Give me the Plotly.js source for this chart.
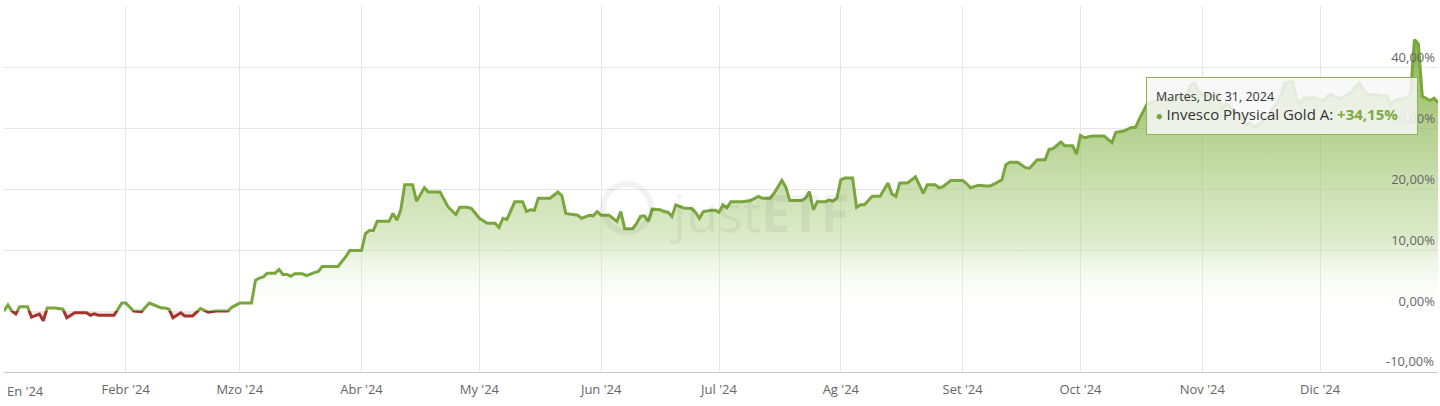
<!DOCTYPE html>
<html>
<head>
<meta charset="utf-8">
<script src="https://cdn.plot.ly/plotly-3.0.1.min.js"></script>
<style>
html,body{margin:0;padding:0;background:#fff;}
#chart{width:1440px;height:406px;}
</style>
</head>
<body>
<div id="chart"></div>
<script>
const dates = [
"2024-01-01","2024-01-02","2024-01-03","2024-01-04","2024-01-05","2024-01-07","2024-01-08","2024-01-10","2024-01-11","2024-01-12",
"2024-01-14","2024-01-16","2024-01-17","2024-01-19","2024-01-22","2024-01-23","2024-01-24","2024-01-25","2024-01-29","2024-01-31",
"2024-02-01","2024-02-03","2024-02-05","2024-02-07","2024-02-10","2024-02-11","2024-02-12","2024-02-13","2024-02-15","2024-02-16",
"2024-02-18","2024-02-20","2024-02-22","2024-02-24","2024-02-27","2024-02-28","2024-03-01","2024-03-04","2024-03-05","2024-03-06",
"2024-03-07","2024-03-08","2024-03-10","2024-03-11","2024-03-12","2024-03-13","2024-03-14","2024-03-15","2024-03-17","2024-03-18",
"2024-03-20","2024-03-21","2024-03-22","2024-03-26","2024-03-28","2024-03-29","2024-04-01","2024-04-02","2024-04-03","2024-04-04",
"2024-04-05","2024-04-08","2024-04-09","2024-04-10","2024-04-11","2024-04-12","2024-04-14","2024-04-15","2024-04-17","2024-04-18",
"2024-04-21","2024-04-23","2024-04-25","2024-04-26","2024-04-28","2024-04-29","2024-05-01","2024-05-03","2024-05-05","2024-05-06",
"2024-05-07","2024-05-08","2024-05-10","2024-05-12","2024-05-13","2024-05-14","2024-05-15","2024-05-16","2024-05-19","2024-05-21",
"2024-05-22","2024-05-23","2024-05-26","2024-05-27","2024-05-29","2024-05-30","2024-05-31","2024-06-01","2024-06-03","2024-06-04",
"2024-06-05","2024-06-06","2024-06-07","2024-06-09","2024-06-10","2024-06-11","2024-06-12","2024-06-13","2024-06-14","2024-06-16",
"2024-06-17","2024-06-18","2024-06-19","2024-06-20","2024-06-22","2024-06-24","2024-06-25","2024-06-26","2024-06-27","2024-06-29",
"2024-06-30","2024-07-01","2024-07-02","2024-07-03","2024-07-04","2024-07-07","2024-07-09","2024-07-11","2024-07-12","2024-07-14",
"2024-07-15","2024-07-17","2024-07-18","2024-07-19","2024-07-22","2024-07-23","2024-07-24","2024-07-25","2024-07-26","2024-07-28",
"2024-07-29","2024-07-30","2024-07-31","2024-08-01","2024-08-02","2024-08-04","2024-08-05","2024-08-06","2024-08-07","2024-08-09",
"2024-08-11","2024-08-13","2024-08-14","2024-08-15","2024-08-16","2024-08-18","2024-08-20","2024-08-22","2024-08-23","2024-08-25",
"2024-08-26","2024-08-27","2024-08-29","2024-09-01","2024-09-02","2024-09-03","2024-09-05","2024-09-07","2024-09-08","2024-09-09",
"2024-09-11","2024-09-12","2024-09-13","2024-09-15","2024-09-17","2024-09-18","2024-09-20","2024-09-22","2024-09-23","2024-09-24",
"2024-09-26","2024-09-27","2024-09-29","2024-09-30","2024-10-01","2024-10-02","2024-10-04","2024-10-07","2024-10-09","2024-10-10",
"2024-10-12","2024-10-14","2024-10-15","2024-10-16","2024-10-17","2024-10-18","2024-10-21","2024-10-22","2024-10-23","2024-10-25",
"2024-10-28","2024-10-29","2024-10-30","2024-10-31","2024-11-01","2024-11-04","2024-11-05","2024-11-06","2024-11-07","2024-11-08",
"2024-11-11","2024-11-12","2024-11-13","2024-11-14","2024-11-15","2024-11-18","2024-11-19","2024-11-20","2024-11-21","2024-11-22",
"2024-11-24","2024-11-25","2024-11-26","2024-11-27","2024-11-28","2024-11-29","2024-12-02","2024-12-03","2024-12-04","2024-12-05",
"2024-12-06","2024-12-09","2024-12-10","2024-12-11","2024-12-12","2024-12-13","2024-12-16","2024-12-17","2024-12-18","2024-12-19",
"2024-12-20","2024-12-23","2024-12-24","2024-12-25","2024-12-26","2024-12-27","2024-12-29","2024-12-30","2024-12-31"
];
const perf = [
0,1.0,0.0,-0.5,0.7,0.7,-1.0,-0.5,-1.6,0.5,
0.5,0.3,-1.1,-0.3,-0.3,-0.7,-0.45,-0.7,-0.7,1.3,
1.3,0.0,-0.1,1.3,0.5,0.5,0.3,-1.1,-0.3,-0.8,
-0.8,0.4,-0.2,0.0,0.0,0.6,1.3,1.3,5.0,5.4,
5.6,6.2,6.2,6.8,6.0,6.0,5.7,6.1,6.1,5.8,
6.3,6.5,7.3,7.3,8.9,9.9,9.9,12.7,13.2,13.2,
14.7,14.7,16.0,14.9,16.6,20.7,20.7,18.0,20.2,19.5,
19.5,17.1,15.8,17.0,17.0,16.8,15.2,14.4,14.4,13.7,
15.2,15.0,17.9,17.9,16.3,16.6,16.5,18.5,18.5,19.5,
18.9,16.0,15.7,15.2,15.7,15.6,16.3,15.7,15.7,15.2,
14.7,16.3,13.5,13.5,14.3,15.5,15.6,14.7,16.7,16.6,
16.3,16.2,15.5,17.4,16.9,16.8,16.2,15.2,16.3,16.5,
16.5,16.2,17.4,16.9,17.9,17.9,18.1,18.8,18.5,18.5,
19.3,21.4,20.3,18.1,18.1,18.5,19.6,16.6,17.9,17.9,
18.2,18.0,18.5,21.5,21.8,21.8,17.0,17.4,17.4,18.8,
18.8,21.0,19.2,18.8,21.0,21.0,22.0,19.3,20.7,20.7,
20.2,20.4,21.4,21.4,20.9,20.2,20.6,20.5,20.5,20.8,
21.5,24.0,24.4,24.4,23.5,23.4,24.8,24.8,26.5,26.6,
27.7,27.1,27.1,25.7,28.8,28.4,28.7,28.7,27.6,29.3,
29.5,30.1,30.1,31.5,32.8,34.0,34.5,35.5,34.5,35.0,
35.2,37.0,37.4,36.0,35.5,35.3,35.5,33.0,34.0,33.5,
31.8,30.5,30.8,30.2,30.4,32.0,33.3,34.0,35.3,37.4,
37.6,34.8,34.0,35.0,34.8,35.0,34.5,35.3,35.5,35.0,
34.8,35.8,36.8,37.4,36.3,35.5,35.4,35.2,35.3,33.8,
34.5,35.0,35.5,44.5,43.8,35.2,34.5,34.9,34.15
];
const monthTicks = ["2024-02-01","2024-03-01","2024-04-01","2024-05-01","2024-06-01","2024-07-01","2024-08-01","2024-09-01","2024-10-01","2024-11-01","2024-12-01"];
const monthLabels = ["Febr '24","Mzo '24","Abr '24","My '24","Jun '24","Jul '24","Ag '24","Set '24","Oct '24","Nov '24","Dic '24"];
const firstLabel = "En '24";
const yTicks = [-10,0,10,20,30,40,50];
const yLabels = ["","0,00%","10,00%","20,00%","30,00%","40,00%",""];
const bottomLabel = "-10,00%";
const seriesName = "Invesco Physical Gold A";
const tipDate = "Martes, Dic 31, 2024";
const tipValue = "+34,15%";

const GREEN = '#79a63d';
const RED = '#a8322a';
const FONT = 'Open Sans, Lato, sans-serif';
const TICKSIZE = 13;

const green = {
  x: dates, y: perf, type: 'scatter', mode: 'lines',
  line: {color: GREEN, width: 3, shape: 'linear'},
  fill: 'tozeroy',
  fillgradient: {type: 'vertical', start: 0, stop: 46,
    colorscale: [[0, 'rgba(255,255,255,0.0)'], [0.25, 'rgba(180,210,140,0.45)'], [1, 'rgba(125,172,62,0.95)']]},
  xaxis: 'x', yaxis: 'y', hoverinfo: 'skip'
};
const red = {
  x: dates, y: perf, type: 'scatter', mode: 'lines',
  line: {color: RED, width: 3},
  fill: 'tozeroy', fillcolor: 'rgba(168,50,42,0.12)',
  xaxis: 'x', yaxis: 'y2', hoverinfo: 'skip'
};

const layout = {
  width: 1440, height: 406,
  margin: {l: 4, r: 2, t: 6, b: 34},
  paper_bgcolor: '#fff', plot_bgcolor: '#fff',
  showlegend: false,
  font: {family: FONT, color: '#666', size: TICKSIZE},
  xaxis: {
    type: 'date', range: ['2024-01-01', '2024-12-31'],
    tickvals: ['2024-01-01'].concat(monthTicks), ticktext: [''].concat(monthLabels),
    showgrid: true, gridcolor: '#e6e6e6', gridwidth: 1,
    showline: true, linecolor: '#c8c8c8', linewidth: 1,
    ticks: 'outside', ticklen: 5, tickcolor: 'rgba(0,0,0,0)',
    tickfont: {family: FONT, size: TICKSIZE, color: '#666'},
    zeroline: false, fixedrange: true
  },
  yaxis: {
    range: [-10, 50], side: 'right', domain: [0, 1],
    tickvals: yTicks, ticktext: yLabels,
    ticklabelposition: 'inside top',
    showgrid: true, gridcolor: '#e6e6e6', gridwidth: 1,
    zeroline: true, zerolinecolor: '#9a9a9a', zerolinewidth: 1,
    showline: false, ticks: '',
    tickfont: {family: FONT, size: TICKSIZE, color: '#666'},
    fixedrange: true
  },
  yaxis2: {
    range: [-10, 0], domain: [0, 1/6], anchor: 'x', visible: false,
    showgrid: false, zeroline: false, fixedrange: true
  },
  shapes: [
    {type: 'circle', xref: 'paper', yref: 'paper',
     x0: (603-4)/1434, x1: (651-4)/1434, y0: (372-232)/366, y1: (372-184)/366,
     line: {color: 'rgba(0,0,0,0.05)', width: 6}, layer: 'above'}
  ],
  annotations: [
    {xref: 'paper', yref: 'paper', x: 1/1434, y: 0, xanchor: 'left', yanchor: 'top',
     yshift: -8, text: firstLabel, showarrow: false,
     font: {family: FONT, size: TICKSIZE, color: '#666'}},
    {xref: 'paper', yref: 'y', x: 1, y: -10, xanchor: 'right', yanchor: 'bottom',
     xshift: -2, yshift: 0, text: bottomLabel, showarrow: false,
     font: {family: FONT, size: TICKSIZE, color: '#666'}},
    {xref: 'paper', yref: 'paper', x: (668-4)/1434, y: (372-212)/366, xanchor: 'left', yanchor: 'middle',
     text: "just<b>ETF</b>", showarrow: false,
     font: {family: FONT, size: 52, color: 'rgba(0,0,0,0.05)'}},
    {xref: 'paper', yref: 'paper', x: (1418-4)/1434, y: (372-77)/366, xanchor: 'right', yanchor: 'top',
     text: "<span style=\"font-size:12.5px\">" + tipDate + "</span><br><span style=\"color:" + GREEN + ";font-size:11px\">●</span> " + seriesName + ": <b><span style=\"color:#7aab3c\">" + tipValue + "</span></b>",
     showarrow: false, align: 'left', valign: 'middle',
     width: 252, height: 38,
     bgcolor: 'rgba(247,247,247,0.85)', bordercolor: '#8db553', borderwidth: 1, borderpad: 9,
     font: {family: FONT, size: 15, color: '#333'}}
  ]
};

Plotly.newPlot('chart', [green, red], layout, {displayModeBar: false, staticPlot: true});
</script>
</body>
</html>
